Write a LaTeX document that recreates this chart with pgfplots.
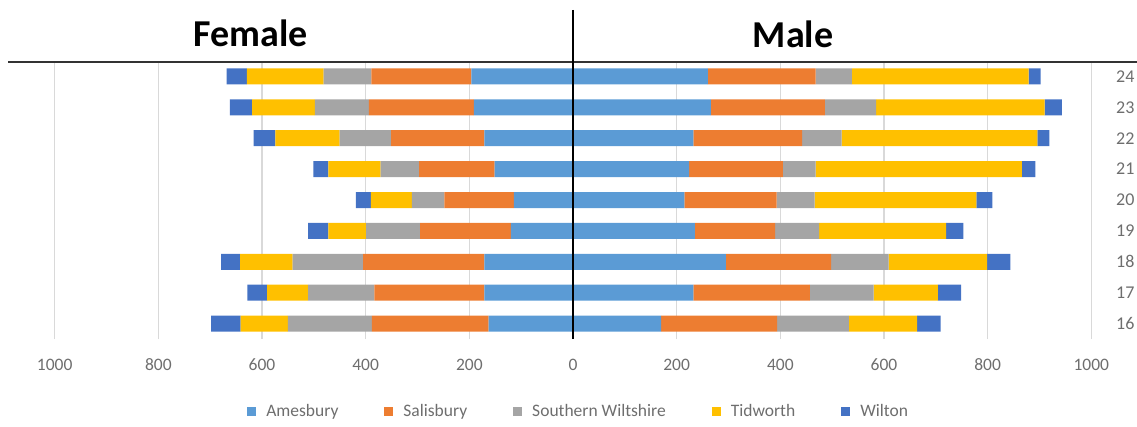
\documentclass[border=0pt]{standalone}
\usepackage{pgfplots}
\pgfplotsset{compat=1.18}
\usepackage{fontspec}
\setmainfont{Carlito}
\definecolor{cAmes}{HTML}{5B9BD5}
\definecolor{cSal}{HTML}{ED7D31}
\definecolor{cSW}{HTML}{A5A5A5}
\definecolor{cTid}{HTML}{FFC000}
\definecolor{cWil}{HTML}{4472C4}
\definecolor{txtgray}{HTML}{6E6E6E}
\begin{document}
\begin{tikzpicture}[x=1pt,y=1pt]
\path[use as bounding box] (0,0) rectangle (1137,426);
\pgfplotsset{pyr/.style={
    at={(8pt,87pt)}, anchor=south west,
    width=1130pt, height=278pt, scale only axis,
    xmin=-1090, xmax=1090, ymin=15.5, ymax=24.5,
    xbar stacked, bar width=16pt,
    axis line style={draw=none}, major tick length=0pt,
}}
% female side (negative values)
\begin{axis}[pyr,
    xtick={-1000,-800,...,1000},
    xticklabels={1000,800,600,400,200,0,200,400,600,800,1000},
    xticklabel style={anchor=center, yshift=-26pt, font=\fontsize{17.5}{20}\selectfont, text=txtgray},
    xmajorgrids, grid style={draw=black!15, line width=1.2pt},
    ytick={16,...,24}, yticklabels={16,17,18,19,20,21,22,23,24}, yticklabel pos=right,
    yticklabel style={anchor=east, font=\fontsize{18}{20}\selectfont, text=txtgray},
    legend columns=5,
    legend image code/.code={\fill[#1] (0pt,-4.5pt) rectangle (9pt,4.5pt);},
    legend style={at={(0.505,-0.259)}, anchor=center, draw=none,
        font=\fontsize{17.5}{20}\selectfont, text=txtgray,
        /tikz/every odd column/.append style={column sep=8pt},
        /tikz/every even column/.append style={column sep=44pt}},
]
\addplot[fill=cAmes, draw=none] coordinates {(-163,16) (-171,17) (-171,18) (-120,19) (-114,20) (-151,21) (-171,22) (-191,23) (-196,24)};
\addlegendentry{Amesbury}
\addplot[fill=cSal, draw=none] coordinates {(-225,16) (-212,17) (-234,18) (-175,19) (-134,20) (-146,21) (-180,22) (-203,23) (-193,24)};
\addlegendentry{Salisbury}
\addplot[fill=cSW, draw=none] coordinates {(-162,16) (-128,17) (-136,18) (-104,19) (-63,20) (-74,21) (-99,22) (-104,23) (-92,24)};
\addlegendentry{Southern Wiltshire}
\addplot[fill=cTid, draw=none] coordinates {(-91,16) (-79,17) (-101,18) (-73,19) (-79,20) (-101,21) (-124,22) (-121,23) (-148,24)};
\addlegendentry{Tidworth}
\addplot[fill=cWil, draw=none] coordinates {(-57,16) (-38,17) (-37,18) (-39,19) (-29,20) (-29,21) (-42,22) (-43,23) (-39,24)};
\addlegendentry{Wilton}
\end{axis}
% male side
\begin{axis}[pyr, xtick=\empty, ytick=\empty]
\addplot[fill=cAmes, draw=none] coordinates {(170,16) (232,17) (295,18) (235,19) (215,20) (224,21) (232,22) (266,23) (260,24)};
\addplot[fill=cSal, draw=none] coordinates {(224,16) (225,17) (203,18) (155,19) (178,20) (181,21) (210,22) (220,23) (208,24)};
\addplot[fill=cSW, draw=none] coordinates {(138,16) (123,17) (111,18) (85,19) (73,20) (63,21) (76,22) (99,23) (70,24)};
\addplot[fill=cTid, draw=none] coordinates {(132,16) (124,17) (190,18) (245,19) (312,20) (398,21) (378,22) (325,23) (341,24)};
\addplot[fill=cWil, draw=none] coordinates {(45,16) (45,17) (45,18) (33,19) (31,20) (26,21) (23,22) (33,23) (23,24)};
\end{axis}
\draw[line width=1.6pt, black!80] (8,364) -- (1137,364);
\draw[line width=1.2pt, black] (573,416) -- (573,87);
\node[anchor=base, font=\bfseries\fontsize{38}{40}\selectfont] at (251,379) {Female};
\node[anchor=base, font=\bfseries\fontsize{38}{40}\selectfont] at (793,378) {Male};
\end{tikzpicture}
\end{document}
